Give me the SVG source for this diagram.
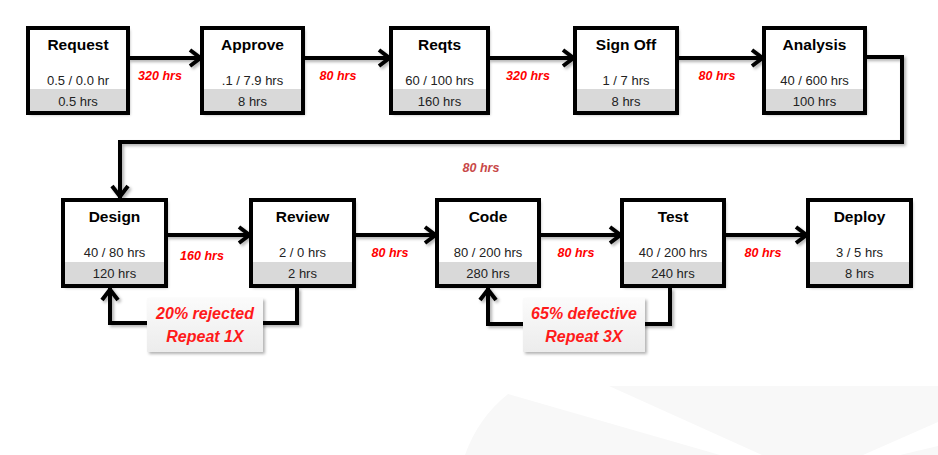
<svg xmlns="http://www.w3.org/2000/svg" width="938" height="455" viewBox="0 0 938 455">
<defs>
<style>
.box{fill:#fff;stroke:none}
.band{fill:#d9d9d9}
.frame{fill:none;stroke:#000;stroke-width:4}
.t{font-family:"Liberation Sans",Arial,sans-serif;font-weight:bold;font-size:15.5px;fill:#000;text-anchor:middle}
.m{font-family:"Liberation Sans",Arial,sans-serif;font-size:13px;fill:#222;text-anchor:middle}
.lbl{font-family:"Liberation Sans",Arial,sans-serif;font-weight:bold;font-style:italic;font-size:12.5px;fill:#ff0000;text-anchor:middle}
.big{font-family:"Liberation Sans",Arial,sans-serif;font-weight:bold;font-style:italic;font-size:16px;fill:#ff1a1a;text-anchor:middle}
.c{fill:none;stroke:#000;stroke-width:4;stroke-linejoin:miter}
.bg{fill:#f8f8f8}
</style>
<filter id="sh" x="-10%" y="-10%" width="130%" height="130%">
<feDropShadow dx="2" dy="2" stdDeviation="1.8" flood-color="#000" flood-opacity="0.3"/>
</filter>
<linearGradient id="g" x1="0" y1="0" x2="0" y2="1">
<stop offset="0" stop-color="#fbfbfb"/>
<stop offset="1" stop-color="#ececec"/>
</linearGradient>
<marker id="ah" markerUnits="userSpaceOnUse" viewBox="-16 -12 20 24" refX="0" refY="0" markerWidth="20" markerHeight="24" orient="auto" overflow="visible">
<path d="M-12,-8 L-1.5,0 L-12,8" fill="none" stroke="#000" stroke-width="4"/>
</marker>
</defs>

<g id="background">
<path class="bg" d="M508,394 L720,455 L465,455 Q478,418 508,394 Z"/>
<path class="bg" d="M609,386 L938,386 L938,422 L863,455 L762,455 Z"/>
<path class="bg" d="M900,455 L938,446 L938,455 Z"/>
</g>

<g id="connectors" filter="url(#sh)">
<path class="c" d="M128,58 H202" marker-end="url(#ah)"/>
<path class="c" d="M303,58 H391" marker-end="url(#ah)"/>
<path class="c" d="M488,58 H575" marker-end="url(#ah)"/>
<path class="c" d="M677,58 H764" marker-end="url(#ah)"/>
<path class="c" d="M865,57 H902 V142 H120 V198" marker-end="url(#ah)"/>
<path class="c" d="M166,235 H251" marker-end="url(#ah)"/>
<path class="c" d="M354,235 H437" marker-end="url(#ah)"/>
<path class="c" d="M539,235 H622" marker-end="url(#ah)"/>
<path class="c" d="M724,235 H808" marker-end="url(#ah)"/>
<path class="c" d="M297,288 V323 H110 V288" marker-end="url(#ah)"/>
<path class="c" d="M670,288 V324 H488 V288" marker-end="url(#ah)"/>
</g>

<g id="edge-labels">
<text class="lbl" x="160" y="80">320 hrs</text>
<text class="lbl" x="338" y="80">80 hrs</text>
<text class="lbl" x="528" y="80">320 hrs</text>
<text class="lbl" x="717" y="80">80 hrs</text>
<text class="lbl" x="481" y="172" style="fill:#c84848">80 hrs</text>
<text class="lbl" x="202" y="260">160 hrs</text>
<text class="lbl" x="390" y="257">80 hrs</text>
<text class="lbl" x="576" y="257">80 hrs</text>
<text class="lbl" x="763" y="257">80 hrs</text>
</g>

<g id="request">
<rect class="box" x="28" y="28" width="100" height="85" filter="url(#sh)"/>
<rect class="band" x="28" y="89" width="100" height="24"/>
<rect class="frame" x="28" y="28" width="100" height="85"/>
<text class="t" x="78" y="50">Request</text>
<text class="m" x="78" y="85">0.5 / 0.0 hr</text>
<text class="m" x="78" y="106">0.5 hrs</text>
</g>
<g id="approve">
<rect class="box" x="202" y="28" width="101" height="85" filter="url(#sh)"/>
<rect class="band" x="202" y="89" width="101" height="24"/>
<rect class="frame" x="202" y="28" width="101" height="85"/>
<text class="t" x="252.5" y="50">Approve</text>
<text class="m" x="252.5" y="85">.1 / 7.9 hrs</text>
<text class="m" x="252.5" y="106">8 hrs</text>
</g>
<g id="reqts">
<rect class="box" x="391" y="28" width="97" height="85" filter="url(#sh)"/>
<rect class="band" x="391" y="89" width="97" height="24"/>
<rect class="frame" x="391" y="28" width="97" height="85"/>
<text class="t" x="439.5" y="50">Reqts</text>
<text class="m" x="439.5" y="85">60 / 100 hrs</text>
<text class="m" x="439.5" y="106">160 hrs</text>
</g>
<g id="signoff">
<rect class="box" x="575" y="28" width="102" height="85" filter="url(#sh)"/>
<rect class="band" x="575" y="89" width="102" height="24"/>
<rect class="frame" x="575" y="28" width="102" height="85"/>
<text class="t" x="626" y="50">Sign Off</text>
<text class="m" x="626" y="85">1 / 7 hrs</text>
<text class="m" x="626" y="106">8 hrs</text>
</g>
<g id="analysis">
<rect class="box" x="764" y="28" width="101" height="85" filter="url(#sh)"/>
<rect class="band" x="764" y="89" width="101" height="24"/>
<rect class="frame" x="764" y="28" width="101" height="85"/>
<text class="t" x="814.5" y="50">Analysis</text>
<text class="m" x="814.5" y="85">40 / 600 hrs</text>
<text class="m" x="814.5" y="106">100 hrs</text>
</g>

<g id="design">
<rect class="box" x="63" y="200" width="103" height="86" filter="url(#sh)"/>
<rect class="band" x="63" y="262" width="103" height="24"/>
<rect class="frame" x="63" y="200" width="103" height="86"/>
<text class="t" x="114.5" y="222">Design</text>
<text class="m" x="114.5" y="257">40 / 80 hrs</text>
<text class="m" x="114.5" y="278">120 hrs</text>
</g>
<g id="review">
<rect class="box" x="251" y="200" width="103" height="86" filter="url(#sh)"/>
<rect class="band" x="251" y="262" width="103" height="24"/>
<rect class="frame" x="251" y="200" width="103" height="86"/>
<text class="t" x="302.5" y="222">Review</text>
<text class="m" x="302.5" y="257">2 / 0 hrs</text>
<text class="m" x="302.5" y="278">2 hrs</text>
</g>
<g id="code">
<rect class="box" x="437" y="200" width="102" height="86" filter="url(#sh)"/>
<rect class="band" x="437" y="262" width="102" height="24"/>
<rect class="frame" x="437" y="200" width="102" height="86"/>
<text class="t" x="488" y="222">Code</text>
<text class="m" x="488" y="257">80 / 200 hrs</text>
<text class="m" x="488" y="278">280 hrs</text>
</g>
<g id="test">
<rect class="box" x="622" y="200" width="102" height="86" filter="url(#sh)"/>
<rect class="band" x="622" y="262" width="102" height="24"/>
<rect class="frame" x="622" y="200" width="102" height="86"/>
<text class="t" x="673" y="222">Test</text>
<text class="m" x="673" y="257">40 / 200 hrs</text>
<text class="m" x="673" y="278">240 hrs</text>
</g>
<g id="deploy">
<rect class="box" x="808" y="200" width="103" height="86" filter="url(#sh)"/>
<rect class="band" x="808" y="262" width="103" height="24"/>
<rect class="frame" x="808" y="200" width="103" height="86"/>
<text class="t" x="859.5" y="222">Deploy</text>
<text class="m" x="859.5" y="257">3 / 5 hrs</text>
<text class="m" x="859.5" y="278">8 hrs</text>
</g>

<g id="rejected-note">
<rect x="147" y="298" width="116" height="54" fill="url(#g)" filter="url(#sh)"/>
<text class="big" x="205" y="319">20% rejected</text>
<text class="big" x="205" y="342">Repeat 1X</text>
</g>
<g id="defective-note">
<rect x="523" y="298" width="122" height="54" fill="url(#g)" filter="url(#sh)"/>
<text class="big" x="584" y="319">65% defective</text>
<text class="big" x="584" y="342">Repeat 3X</text>
</g>
</svg>
